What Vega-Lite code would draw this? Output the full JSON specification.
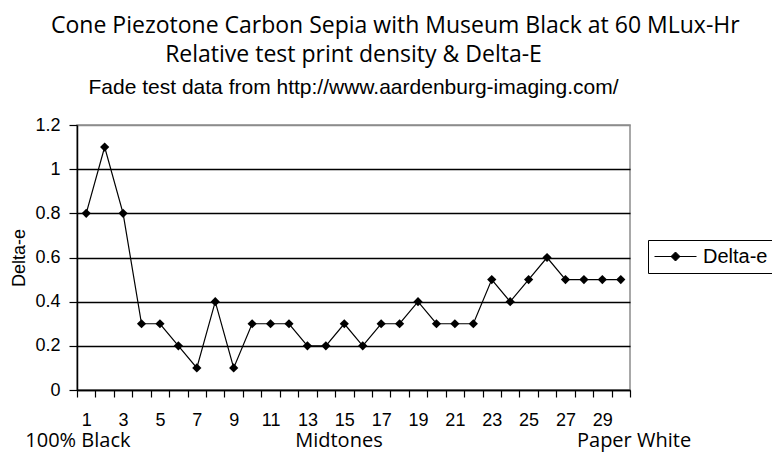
{
  "$schema": "https://vega.github.io/schema/vega-lite/v6.json",
  "width": 553,
  "height": 265,
  "autosize": {"type": "none"},
  "padding": {"left": 77, "top": 125, "right": 142, "bottom": 70},
  "background": "white",
  "title": {
    "text": ["\u200b\u00a0\u00a0\u00a0\u00a0\u00a0\u00a0\u00a0\u00a0\u00a0\u00a0\u00a0\u00a0\u00a0\u00a0Cone Piezotone Carbon Sepia with Museum Black at 60 MLux-Hr", "Relative test print density & Delta-E"],
    "subtitle": "Fade test data from http://www.aardenburg-imaging.com/",
    "anchor": "middle",
    "frame": "group",
    "font": "Open Sans",
    "fontSize": 23,
    "fontWeight": "normal",
    "color": "black",
    "lineHeight": 29,
    "subtitleFont": "Liberation Sans",
    "subtitleFontSize": 21,
    "subtitleColor": "black",
    "subtitlePadding": 10,
    "offset": 18
  },
  "config": {
    "view": {"stroke": "#8c8c8c", "strokeWidth": 1.5},
    "axis": {
      "labelFont": "Liberation Sans",
      "labelColor": "black",
      "titleFont": "Liberation Sans",
      "titleColor": "black",
      "titleFontWeight": "normal",
      "domainColor": "black",
      "tickColor": "black"
    }
  },
  "layer": [
    {
      "data": {
        "values": [
          {"step": 1, "deltaE": 0.8, "series": "Delta-e"},
          {"step": 2, "deltaE": 1.1, "series": "Delta-e"},
          {"step": 3, "deltaE": 0.8, "series": "Delta-e"},
          {"step": 4, "deltaE": 0.3, "series": "Delta-e"},
          {"step": 5, "deltaE": 0.3, "series": "Delta-e"},
          {"step": 6, "deltaE": 0.2, "series": "Delta-e"},
          {"step": 7, "deltaE": 0.1, "series": "Delta-e"},
          {"step": 8, "deltaE": 0.4, "series": "Delta-e"},
          {"step": 9, "deltaE": 0.1, "series": "Delta-e"},
          {"step": 10, "deltaE": 0.3, "series": "Delta-e"},
          {"step": 11, "deltaE": 0.3, "series": "Delta-e"},
          {"step": 12, "deltaE": 0.3, "series": "Delta-e"},
          {"step": 13, "deltaE": 0.2, "series": "Delta-e"},
          {"step": 14, "deltaE": 0.2, "series": "Delta-e"},
          {"step": 15, "deltaE": 0.3, "series": "Delta-e"},
          {"step": 16, "deltaE": 0.2, "series": "Delta-e"},
          {"step": 17, "deltaE": 0.3, "series": "Delta-e"},
          {"step": 18, "deltaE": 0.3, "series": "Delta-e"},
          {"step": 19, "deltaE": 0.4, "series": "Delta-e"},
          {"step": 20, "deltaE": 0.3, "series": "Delta-e"},
          {"step": 21, "deltaE": 0.3, "series": "Delta-e"},
          {"step": 22, "deltaE": 0.3, "series": "Delta-e"},
          {"step": 23, "deltaE": 0.5, "series": "Delta-e"},
          {"step": 24, "deltaE": 0.4, "series": "Delta-e"},
          {"step": 25, "deltaE": 0.5, "series": "Delta-e"},
          {"step": 26, "deltaE": 0.6, "series": "Delta-e"},
          {"step": 27, "deltaE": 0.5, "series": "Delta-e"},
          {"step": 28, "deltaE": 0.5, "series": "Delta-e"},
          {"step": 29, "deltaE": 0.5, "series": "Delta-e"},
          {"step": 30, "deltaE": 0.5, "series": "Delta-e"}
        ]
      },
      "mark": {
        "type": "line",
        "strokeWidth": 1.2,
        "point": {"shape": "diamond", "filled": true, "size": 85, "color": "black"}
      },
      "encoding": {
        "x": {
          "field": "step",
          "type": "ordinal",
          "scale": {"type": "band", "paddingInner": 0, "paddingOuter": 0},
          "axis": {
            "title": null,
            "labelAngle": 0,
            "labelFontSize": 18,
            "labelPadding": 14,
            "tickSize": 7,
            "tickBand": "extent",
            "domainWidth": 1.5,
            "tickWidth": 1.2,
            "labelExpr": "datum.value % 2 == 1 ? datum.label : ''"
          }
        },
        "y": {
          "field": "deltaE",
          "type": "quantitative",
          "scale": {"domain": [0, 1.2], "nice": false, "zero": true},
          "axis": {
            "title": "Delta-e",
            "titleFontSize": 18,
            "titlePadding": 6,
            "values": [0, 0.2, 0.4, 0.6, 0.8, 1, 1.2],
            "format": "~g",
            "labelFontSize": 18,
            "labelPadding": 9,
            "tickSize": 8,
            "tickWidth": 1.2,
            "domainWidth": 1.5,
            "grid": true,
            "gridColor": {"condition": {"test": "datum.value >= 1.2", "value": "#8c8c8c"}, "value": "black"},
            "gridWidth": 1.5
          }
        },
        "color": {
          "field": "series",
          "type": "nominal",
          "scale": {"range": ["black"]},
          "legend": {
            "title": null,
            "orient": "none",
            "legendX": 571,
            "legendY": 115,
            "strokeColor": "black",
            "padding": 6,
            "labelFont": "Liberation Sans",
            "labelFontSize": 20,
            "labelColor": "black",
            "labelOffset": 17,
            "symbolOffset": 11,
            "symbolType": "M-2.1,0H2.1M0,-0.45L0.45,0L0,0.45L-0.45,0Z",
            "symbolSize": 400,
            "symbolStrokeWidth": 1,
            "encode": {
              "symbols": {
                "update": {
                  "fill": {"value": "black"},
                  "stroke": {"value": "black"},
                  "shape": {"value": "M-2.1,0H2.1M0,-0.45L0.45,0L0,0.45L-0.45,0Z"},
                  "size": {"value": 400},
                  "strokeWidth": {"value": 1}
                }
              }
            }
          }
        }
      }
    },
    {
      "data": {
        "values": [
          {"label": "100% Black", "pos": 0.55, "level": -0.258},
          {"label": "Midtones", "pos": 14.71, "level": -0.258},
          {"label": "Paper White", "pos": 30.72, "level": -0.258}
        ]
      },
      "mark": {"type": "text", "font": "Open Sans", "fontSize": 20, "color": "black", "align": "center", "baseline": "alphabetic"},
      "encoding": {
        "x": {"field": "pos", "type": "quantitative", "scale": {"domain": [0.5, 30.5], "nice": false, "zero": false}, "axis": null},
        "y": {"field": "level", "type": "quantitative", "scale": {"domain": [0, 1.2], "nice": false}},
        "text": {"field": "label"}
      }
    }
  ],
  "resolve": {"scale": {"x": "independent"}}
}
